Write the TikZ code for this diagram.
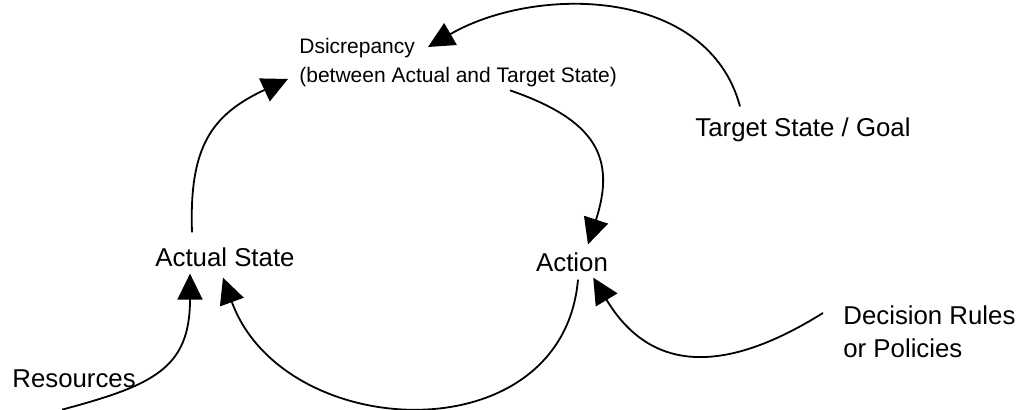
\documentclass[tikz,border=0pt]{standalone}
\usepackage{fontspec}
\setmainfont{Liberation Sans}
\usetikzlibrary{arrows.meta}

\begin{document}
\begin{tikzpicture}[x=0.5pt,y=0.5pt,
  tag/.style={inner sep=0pt,font=\fontsize{12.9}{16.5}\selectfont},
  note/.style={inner sep=0pt,align=left,font=\fontsize{10.5}{14.5}\selectfont},
  loopline/.style={line width=0.9pt,-{Triangle[length=13pt,width=12.5pt]}}]
  \useasboundingbox (0,0) rectangle (1019,-410);

  % Variables of the control loop.
  \node[note,anchor=north west] (disc) at (299,-38)
    {Dsicrepancy\\(between Actual and Target State)};
  \node[tag,anchor=base west] (goal) at (695,-137) {Target State / Goal};
  \node[tag,anchor=base] (actual) at (225,-267) {Actual State};
  \node[tag,anchor=base] (action) at (572,-272) {Action};
  \node[tag,anchor=north west,align=left] (rules) at (843,-305)
    {Decision Rules\\or Policies};
  \node[tag,anchor=base west] (res) at (12,-388) {Resources};

  % Links of the loop.
  \draw[loopline] ([shift={(45,11.5)}]goal.north west)
    to[out=105,in=30] ([shift={(129,-9)}]disc.north west);
  \draw[loopline] ([shift={(-33,15.5)}]actual.north)
    to[out=92,in=205,looseness=1.2] ([shift={(-11,8.4)}]disc.south west);
  \draw[loopline] ([shift={(211,-3)}]disc.south west)
    to[out=-19,in=72,looseness=1.35] ([shift={(16,8.5)}]action.north);
  \draw[loopline] ([shift={(6,-7)}]action.south)
    to[out=-95,in=-70,looseness=1.27] ([shift={(-2,-10)}]actual.south);

  % Outside inputs.
  \draw[loopline] ([shift={(-12,-21)}]res.south)
    to[out=15,in=-90,looseness=1.3] ([shift={(-35,-6)}]actual.south);
  \draw[loopline] ([shift={(-20,-8)}]rules.north west)
    to[out=212,in=-59,looseness=1.25] ([shift={(-15,-5)}]action.south east);
\end{tikzpicture}
\end{document}
